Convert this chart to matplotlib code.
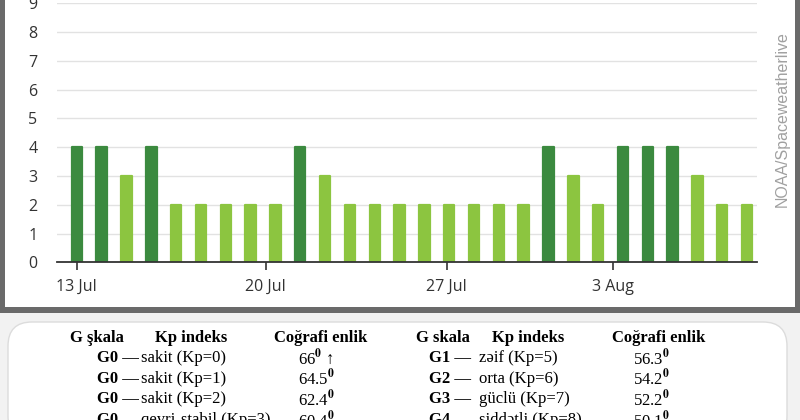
import matplotlib.pyplot as plt
from matplotlib.patches import Rectangle, FancyBboxPatch

# gündəlik maksimum Kp, 13 iyul - 9 avqust
kp_values = [4, 4, 3, 4, 2, 2, 2, 2, 2, 4, 3, 2, 2, 2,
             2, 2, 2, 2, 2, 4, 3, 2, 4, 4, 4, 3, 2, 2]
tick_labels = ["13 Jul", "20 Jul", "27 Jul", "3 Aug"]
tick_pos = [0, 7.6, 14.9, 21.6]
y_ticks = list(range(0, 10))

header_left = ["G şkala", "Kp indeks", "Coğrafi enlik"]
header_right = ["G skala", "Kp indeks", "Coğrafi enlik"]
g_left = ["G0 —", "G0 —", "G0 —", "G0 —"]
desc_left = ["sakit (Kp=0)", "sakit (Kp=1)", "sakit (Kp=2)", "qeyri-stabil (Kp=3)"]
lat_left = ["66", "64.5", "62.4", "60.4"]
g_right = ["G1 —", "G2 —", "G3 —", "G4 —"]
desc_right = ["zəif (Kp=5)", "orta (Kp=6)", "güclü (Kp=7)", "şiddətli (Kp=8)"]
lat_right = ["56.3", "54.2", "52.2", "50.1"]

DARK = "#3b8a3f"
LIGHT = "#8cc540"
W, H = 800, 420

plt.rcParams["mathtext.fontset"] = "stix"


def fx(px):
    return px / W


def fy(py):
    return 1 - py / H


def main():
    fig = plt.figure(figsize=(8, 4.2), dpi=100, facecolor="#f2f2f2")

    # ramka və ağ panel
    fig.patches.append(Rectangle((0, fy(313)), 1, 313 / H, transform=fig.transFigure,
                                 facecolor="#6a6a6a", edgecolor="none", zorder=-3))
    fig.patches.append(Rectangle((fx(5), fy(307)), fx(790), 307 / H + 0.01,
                                 transform=fig.transFigure,
                                 facecolor="white", edgecolor="none", zorder=-2))
    fig.patches.append(FancyBboxPatch((fx(8), fy(440)), fx(779), 118 / H,
                                      boxstyle="round,pad=0,rounding_size=0.03",
                                      transform=fig.transFigure, mutation_aspect=W / H,
                                      facecolor="white", edgecolor="#dcdcdc",
                                      linewidth=1, zorder=-2))

    ax = fig.add_axes([fx(57), fy(262.3), fx(700), 259 / H])
    ax.set_facecolor("none")

    x = list(range(len(kp_values)))
    colors = [DARK if v >= 4 else LIGHT for v in kp_values]
    ax.bar(x, kp_values, width=0.42, color=colors, edgecolor=colors,
           linewidth=1.6, joinstyle="round", zorder=3)

    ax.set_xlim(-0.8, len(kp_values) - 0.6)
    ax.set_ylim(0, 9)
    ax.set_yticks(y_ticks)
    ax.set_xticks(tick_pos)
    ax.set_xticklabels(tick_labels)
    ax.grid(axis="y", color="#e2e2e2", linewidth=1, zorder=0)
    for s in ["top", "right", "left"]:
        ax.spines[s].set_visible(False)
    ax.spines["bottom"].set_color("#333333")
    ax.spines["bottom"].set_linewidth(1.3)
    ax.spines["bottom"].set_zorder(4)
    ax.tick_params(axis="y", length=0, pad=14, labelsize=11.5, labelcolor="#333333")
    ax.tick_params(axis="x", length=6, width=1.2, color="#333333", pad=6,
                   labelsize=11.5, labelcolor="#333333")
    for lab in ax.get_xticklabels() + ax.get_yticklabels():
        lab.set_fontfamily("Open Sans")

    fig.text(fx(782), fy(119), "NOAA/Spaceweatherlive", rotation=90,
             ha="center", va="center", fontsize=11.5, color="#a0a0a0",
             family="Liberation Sans")

    serif = ["Liberation Serif", "DejaVu Serif"]
    fs = 12

    def table(headers, hx, gs, descs, lats, gx, dx, lx):
        for h, px in zip(headers, hx):
            fig.text(fx(px), fy(338), h, ha="left", va="center", fontsize=fs,
                     fontweight="bold", family=serif)
        for i, (g, d, la) in enumerate(zip(gs, descs, lats)):
            yy = fy(358 + i * 20.7)
            fig.text(fx(gx), yy, g, ha="right", va="center", fontsize=fs,
                     fontweight="bold", family=serif)
            fig.text(fx(dx), yy, d, ha="left", va="center", fontsize=fs, family=serif)
            val = la + r"$^{\mathbf{0}}$"
            if la == "66":
                val += " ↑"
            fig.text(fx(lx), yy, val, ha="left", va="center", fontsize=fs, family=serif)

    table(header_left, [70, 155, 274], g_left, desc_left, lat_left, 139, 141, 298)
    table(header_right, [416, 492, 612], g_right, desc_right, lat_right, 471, 479, 633)

    fig.savefig("out.png", dpi=100, facecolor=fig.get_facecolor())


if __name__ == "__main__":
    main()
